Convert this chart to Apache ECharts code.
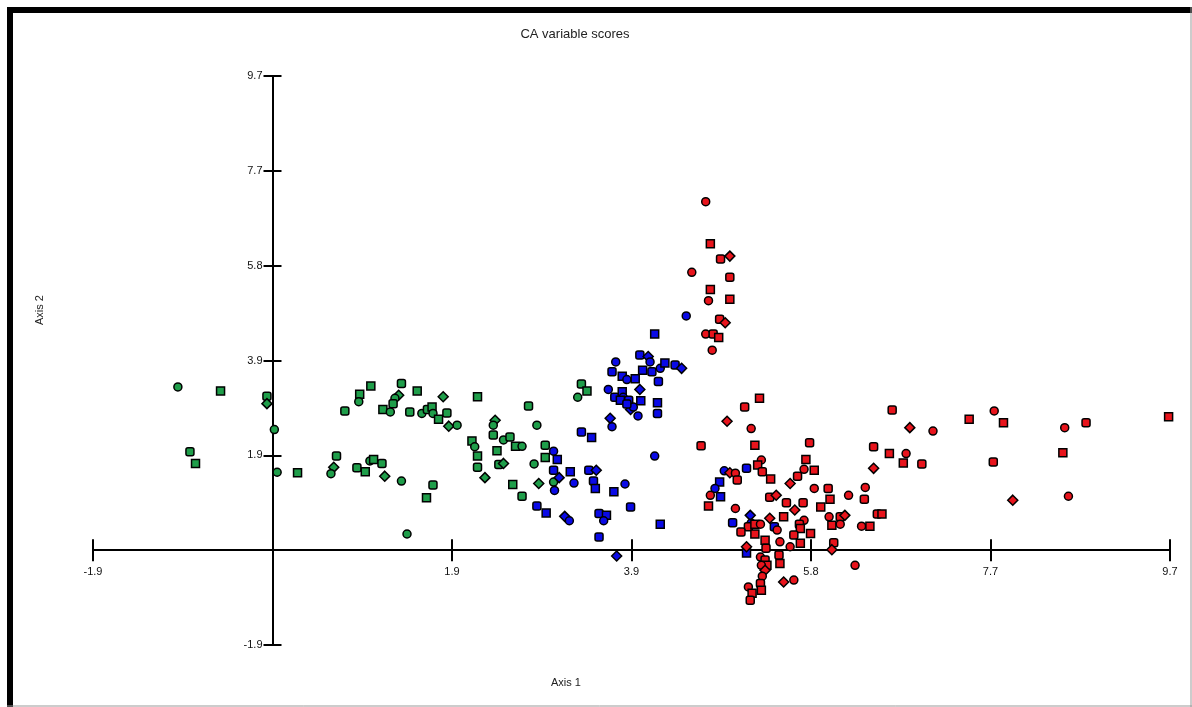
<!DOCTYPE html>
<html>
<head>
<meta charset="utf-8">
<title>CA variable scores</title>
<script src="https://cdn.jsdelivr.net/npm/echarts@6/dist/echarts.min.js"></script>
<style>
    html, body { margin: 0; padding: 0; background: #fff; }
    #chart { width: 1192px; height: 707px; }
</style>
</head>
<body>
<div id="chart"></div>
<script>
// axis ticks (both axes share the same steps, labels are rounded)
const tickValues = [-1.935, 1.935, 3.87, 5.805, 7.74, 9.675];
const tickLabels = ['-1.9', '1.9', '3.9', '5.8', '7.7', '9.7'];

// green group
const greenPoints = [
    [-1.02, 3.33], [-0.56, 3.25], [-0.06, 3.14], [-0.06, 2.99], [0.02, 2.46],
    [-0.89, 2.01], [-0.83, 1.77], [0.05, 1.59], [0.27, 1.58], [0.69, 1.92],
    [0.66, 1.69], [0.63, 1.56], [0.78, 2.84], [0.94, 3.18], [0.93, 3.03],
    [1.06, 3.35], [1.39, 3.40], [1.36, 3.16], [1.32, 3.10], [1.30, 2.99],
    [1.19, 2.87], [1.27, 2.82], [1.56, 3.25], [1.48, 2.82], [1.84, 3.13],
    [1.61, 2.79], [1.67, 2.87], [1.72, 2.92], [1.73, 2.79], [1.79, 2.67],
    [1.88, 2.80], [1.90, 2.53], [1.99, 2.55], [0.91, 1.68], [1.00, 1.60],
    [1.05, 1.82], [1.09, 1.85], [1.18, 1.77], [1.21, 1.51], [1.39, 1.41],
    [1.73, 1.33], [1.66, 1.07], [1.45, 0.33], [2.21, 3.13], [2.76, 2.94],
    [2.40, 2.65], [2.38, 2.55], [2.38, 2.35], [2.15, 2.23], [2.18, 2.11],
    [2.21, 1.92], [2.21, 1.69], [2.29, 1.48], [2.49, 2.25], [2.56, 2.31],
    [2.62, 2.12], [2.69, 2.12], [2.42, 2.03], [2.44, 1.75], [2.49, 1.77],
    [2.85, 2.55], [2.94, 2.14], [2.94, 1.89], [2.82, 1.76], [2.59, 1.34],
    [2.69, 1.10], [2.87, 1.36], [3.03, 1.39], [3.33, 3.39], [3.39, 3.25],
    [3.29, 3.12]
];

// blue group
const bluePoints = [
    [3.03, 2.02], [3.07, 1.85], [3.03, 1.63], [3.09, 1.48], [3.04, 1.22],
    [2.85, 0.90], [2.95, 0.76], [4.46, 4.78], [4.12, 4.41], [3.96, 3.98],
    [4.05, 3.95], [4.07, 3.84], [4.09, 3.64], [3.99, 3.67], [4.18, 3.71],
    [4.23, 3.82], [4.34, 3.78], [4.41, 3.71], [3.70, 3.84], [3.66, 3.64],
    [3.77, 3.55], [3.82, 3.48], [3.91, 3.50], [4.16, 3.44], [3.96, 3.28],
    [3.62, 3.28], [3.69, 3.12], [3.77, 3.23], [3.78, 3.12], [3.75, 3.06],
    [3.84, 3.06], [3.86, 2.87], [3.89, 2.92], [3.82, 2.98], [3.97, 3.05],
    [3.94, 2.74], [4.15, 3.01], [4.15, 2.79], [3.64, 2.69], [3.66, 2.52],
    [3.33, 2.41], [3.44, 2.30], [4.12, 1.92], [3.21, 1.60], [3.41, 1.63],
    [3.49, 1.63], [3.25, 1.37], [3.46, 1.41], [3.48, 1.26], [3.80, 1.35],
    [3.68, 1.19], [3.86, 0.88], [3.15, 0.69], [3.20, 0.60], [3.52, 0.75],
    [3.60, 0.71], [3.57, 0.60], [4.18, 0.53], [3.52, 0.27], [3.71, -0.12],
    [4.87, 1.62], [5.11, 1.67], [4.82, 1.39], [4.77, 1.26], [4.83, 1.09],
    [4.96, 0.56], [5.15, 0.71], [5.16, 0.55], [5.41, 0.48], [5.11, -0.06]
];

// red group
const redPoints = [
    [4.67, 7.11], [4.72, 6.25], [4.83, 5.94], [4.93, 6.00], [4.52, 5.67],
    [4.93, 5.57], [4.72, 5.32], [4.70, 5.09], [4.93, 5.12], [4.82, 4.71],
    [4.88, 4.64], [4.67, 4.41], [4.75, 4.41], [4.81, 4.34], [4.74, 4.08],
    [5.25, 3.10], [5.09, 2.92], [4.90, 2.63], [5.16, 2.48], [4.62, 2.13],
    [5.20, 2.14], [5.27, 1.84], [5.23, 1.74], [5.28, 1.60], [4.93, 1.58],
    [4.99, 1.57], [5.01, 1.43], [5.37, 1.45], [4.72, 1.12], [4.70, 0.90],
    [5.36, 1.08], [5.43, 1.12], [4.99, 0.85], [5.13, 0.48], [5.20, 0.53],
    [5.26, 0.53], [5.20, 0.33], [5.05, 0.37], [5.36, 0.65], [5.44, 0.41],
    [5.54, 0.97], [5.51, 0.68], [5.47, 0.17], [5.31, 0.20], [5.32, 0.04],
    [5.11, 0.07], [5.26, -0.14], [5.31, -0.20], [5.33, -0.31], [5.27, -0.31],
    [5.47, -0.27], [5.46, -0.10], [5.31, -0.41], [5.28, -0.53], [5.26, -0.68],
    [5.27, -0.82], [5.13, -0.75], [5.17, -0.88], [5.15, -1.02], [5.51, -0.65],
    [5.62, -0.61], [5.79, 2.19], [5.75, 1.85], [5.73, 1.65], [5.84, 1.63],
    [5.66, 1.51], [5.58, 1.36], [5.84, 1.26], [5.99, 1.26], [6.01, 1.04],
    [6.21, 1.12], [5.91, 0.88], [5.72, 0.97], [5.63, 0.82], [5.73, 0.61],
    [5.68, 0.53], [5.69, 0.44], [6.00, 0.68], [6.03, 0.51], [6.12, 0.68],
    [6.17, 0.71], [6.12, 0.53], [5.62, 0.31], [5.69, 0.14], [5.58, 0.07],
    [5.80, 0.34], [6.05, 0.15], [6.03, 0.01], [6.28, -0.31], [6.52, 0.74],
    [6.57, 0.74], [6.35, 0.49], [6.44, 0.49], [6.68, 2.86], [6.87, 2.50],
    [7.12, 2.43], [6.48, 2.11], [6.65, 1.97], [6.83, 1.97], [6.80, 1.78],
    [7.00, 1.76], [6.48, 1.67], [6.39, 1.28], [6.38, 1.04], [7.51, 2.67],
    [7.78, 2.84], [7.88, 2.60], [7.77, 1.80], [7.98, 1.02], [8.54, 2.50],
    [8.77, 2.60], [8.52, 1.99], [8.58, 1.10], [9.66, 2.72]
];

const markerShapes = ['circle', 'rect', 'roundRect', 'diamond', 'circle', 'roundRect', 'rect'];

// plot box, the axes cross at 0 inside it
const GRID = { left: 93, right: 22, top: 76, bottom: 62 };
const AXIS_MIN = -1.935;
const AXIS_MAX = 9.675;

const chart = echarts.init(document.getElementById('chart'));

const plotW = 1192 - GRID.left - GRID.right;
const plotH = 707 - GRID.top - GRID.bottom;
// distance from grid edge to the zero line
const zeroFromLeft = plotW * (0 - AXIS_MIN) / (AXIS_MAX - AXIS_MIN);
const zeroFromBottom = plotH * (0 - AXIS_MIN) / (AXIS_MAX - AXIS_MIN);

const labelText = v => {
    let best = 0;
    tickValues.forEach((t, i) => {
        if (Math.abs(t - v) < Math.abs(tickValues[best] - v)) {
            best = i;
        }
    });
    return tickLabels[best];
};

const tickLine = { color: '#000', width: 2 };

const mainAxis = (position, offset, tickLen, margin) => ({
    type: 'value',
    position: position,
    offset: offset,
    min: AXIS_MIN,
    max: AXIS_MAX,
    axisLine: { onZero: false, lineStyle: { color: '#000', width: 2 } },
    axisTick: { customValues: tickValues, length: tickLen, lineStyle: tickLine },
    axisLabel: {
        margin: margin,
        color: '#111',
        fontSize: 11,
        fontFamily: 'Liberation Sans, Arial, sans-serif',
        customValues: tickValues,
        formatter: labelText
    },
    splitLine: { show: false }
});

// second axis only draws the other half of each tick
const mirrorAxis = (position, tickLen) => ({
    type: 'value',
    position: position,
    min: AXIS_MIN,
    max: AXIS_MAX,
    axisLine: { show: false, onZero: true, onZeroAxisIndex: 0 },
    axisTick: { show: true, customValues: tickValues, length: tickLen, lineStyle: tickLine },
    axisLabel: { show: false },
    splitLine: { show: false }
});

const makeSeries = (name, data, color) => ({
    name: name,
    type: 'scatter',
    data: data,
    symbol: (value, params) => markerShapes[params.dataIndex % markerShapes.length],
    symbolSize: (value, params) => markerShapes[params.dataIndex % markerShapes.length] === 'diamond' ? 10 : 8,
    itemStyle: {
        color: color,
        borderColor: '#000',
        borderWidth: 1.5,
        opacity: 1
    }
});

const textFont = 'Liberation Sans, Arial, sans-serif';

chart.setOption({
    animation: false,
    backgroundColor: '#fff',
    grid: GRID,
    xAxis: [mainAxis('bottom', -zeroFromBottom, 11, 16), mirrorAxis('top', 11)],
    yAxis: [mainAxis('left', -zeroFromLeft, 9, 10), mirrorAxis('right', 9)],
    series: [
        makeSeries('green', greenPoints, '#1f9e4a'),
        makeSeries('blue', bluePoints, '#0a0ae6'),
        makeSeries('red', redPoints, '#e8141c')
    ],
    graphic: [
        // frame
        { type: 'line', shape: { x1: 7, y1: 10, x2: 1192, y2: 10 }, style: { stroke: '#000', lineWidth: 6 }, silent: true },
        { type: 'line', shape: { x1: 10, y1: 7, x2: 10, y2: 707 }, style: { stroke: '#000', lineWidth: 6 }, silent: true },
        { type: 'line', shape: { x1: 7, y1: 706, x2: 1192, y2: 706 }, style: { stroke: '#999', lineWidth: 1 }, silent: true },
        { type: 'line', shape: { x1: 1191, y1: 7, x2: 1191, y2: 707 }, style: { stroke: '#999', lineWidth: 1 }, silent: true },
        {
            type: 'text', x: 575, y: 34,
            style: { text: 'CA variable scores', fill: '#222', font: '13px ' + textFont, align: 'center', verticalAlign: 'middle' }
        },
        {
            type: 'text', x: 566, y: 683,
            style: { text: 'Axis 1', fill: '#222', font: '11px ' + textFont, align: 'center', verticalAlign: 'middle' }
        },
        {
            type: 'text', x: 40, y: 310, rotation: Math.PI / 2,
            style: { text: 'Axis 2', fill: '#222', font: '11px ' + textFont, align: 'center', verticalAlign: 'middle' }
        }
    ]
});
</script>
</body>
</html>
